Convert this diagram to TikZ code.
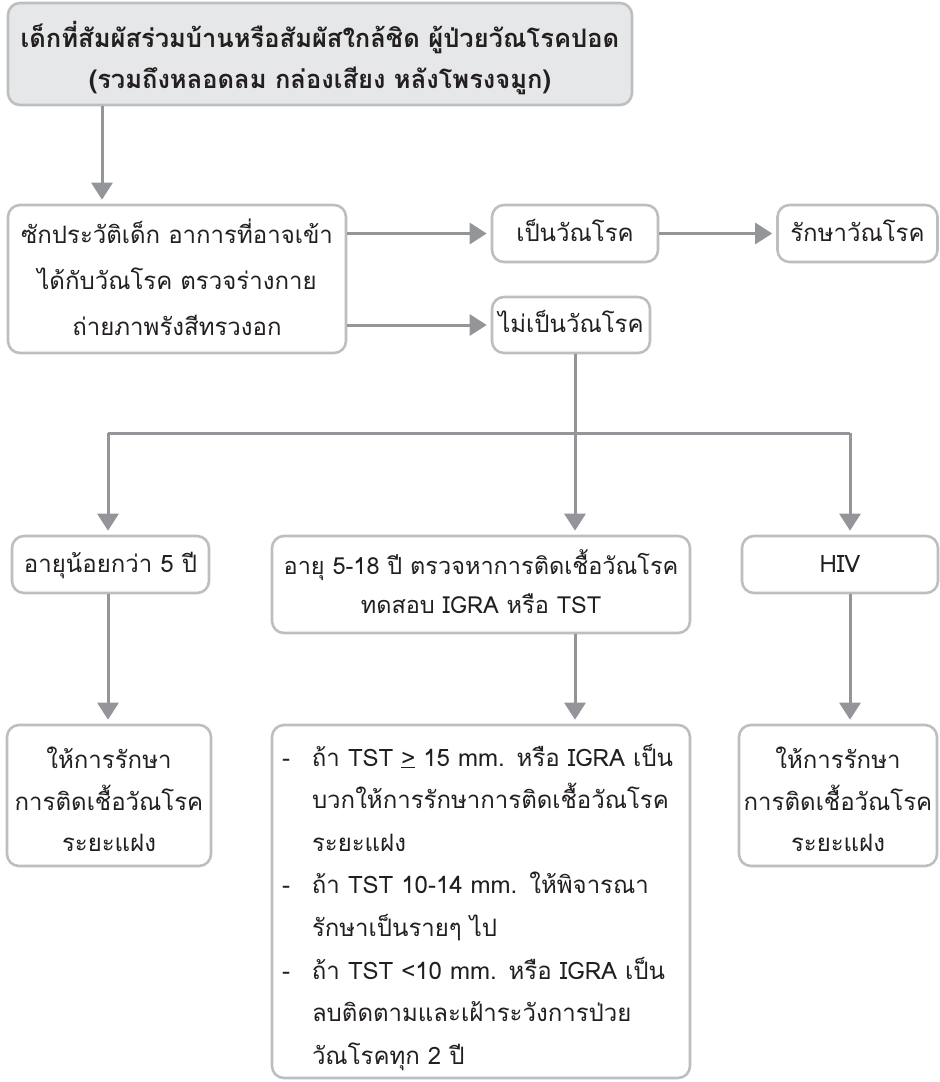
\documentclass[tikz,border=0pt]{standalone}
\usepackage{fontspec}
\usetikzlibrary{arrows.meta}
\newfontfamily\thaifont[Script=Thai]{Loma}
\definecolor{boxline}{HTML}{BCBEC0}
\definecolor{boxfill}{HTML}{E6E7E8}
\definecolor{arrowgray}{HTML}{939598}
\definecolor{ink}{HTML}{231F20}
% text height/depth fix where the lines sit inside each box:
% the text box hangs from its first baseline, so its depth covers the
% remaining lines (lines-1 times the line spacing)
\tikzset{
  box/.style={draw=boxline, line width=2.6pt, rounded corners=12pt, fill=white,
    inner sep=0pt, align=center, text=ink, text height=15pt, text depth=0pt,
    font=\thaifont\fontsize{24pt}{41.5pt}\selectfont},
  headbox/.style={box, fill=boxfill, font=\thaifont\bfseries\fontsize{25.5pt}{41pt}\selectfont},
  arr/.style={draw=arrowgray, line width=3pt,
    -{Triangle[length=17pt,width=21pt]}, shorten >=4pt},
  link/.style={draw=arrowgray, line width=3pt}
}
\begin{document}
\begin{tikzpicture}[x=1pt,y=-1pt]
\useasboundingbox (0,0) rectangle (940,1082);

% first row: contact case
\node[headbox, minimum width=624pt, minimum height=102pt, text width=620pt,
  text height=27pt, text depth=41pt] (contact) at (320,54)
  {เด็กที่สัมผัสร่วมบ้านหรือสัมผัสใกล้ชิด ผู้ป่วยวัณโรคปอด\\(รวมถึงหลอดลม กล่องเสียง หลังโพรงจมูก)};

% evaluation and its outcomes
\node[box, minimum width=338pt, minimum height=148pt, text width=334pt,
  text height=20pt, text depth=92pt,
  font=\thaifont\fontsize{24pt}{46pt}\selectfont] (history) at (177,279)
  {ซักประวัติเด็ก อาการที่อาจเข้า\\ได้กับวัณโรค ตรวจร่างกาย\\ถ่ายภาพรังสีทรวงอก};
\node[box, minimum width=166pt, minimum height=57pt] (tb) at (575,233.5) {เป็นวัณโรค};
\node[box, minimum width=160pt, minimum height=57pt] (treat) at (857.5,233.5) {รักษาวัณโรค};
\node[box, minimum width=158pt, minimum height=56pt] (notb) at (571,325) {ไม่เป็นวัณโรค};

% age / risk groups
\node[box, minimum width=197pt, minimum height=57pt] (young) at (110.5,564.5) {อายุน้อยกว่า 5 ปี};
\node[box, minimum width=418pt, minimum height=97pt, text width=414pt,
  text height=18pt, text depth=39pt,
  font=\thaifont\fontsize{23.5pt}{39pt}\selectfont] (older) at (481,584.5)
  {อายุ 5-18 ปี ตรวจหาการติดเชื้อวัณโรค\\ทดสอบ IGRA หรือ TST};
\node[box, minimum width=196pt, minimum height=57pt] (hiv) at (840,564.5) {HIV};

% management
\node[box, minimum width=204pt, minimum height=141pt, text width=200pt,
  text height=29pt, text depth=83pt] (ltbiA) at (109,795.5)
  {ให้การรักษา\\การติดเชื้อวัณโรค\\ระยะแฝง};
\node[box, minimum width=418pt, minimum height=353pt, align=left,
  text width=398pt, inner xsep=10pt, text height=27pt, text depth=298pt,
  font=\thaifont\fontsize{24pt}{42.6pt}\selectfont] (plan) at (481,901.5)
  {\makebox[30pt][l]{-}ถ้า TST \underline{>} 15 mm. หรือ IGRA เป็น\\
   \hspace*{30pt}บวกให้การรักษาการติดเชื้อวัณโรค\\
   \hspace*{30pt}ระยะแฝง\\
   \makebox[30pt][l]{-}ถ้า TST 10-14 mm. ให้พิจารณา\\
   \hspace*{30pt}รักษาเป็นรายๆ ไป\\
   \makebox[30pt][l]{-}ถ้า TST <10 mm. หรือ IGRA เป็น\\
   \hspace*{30pt}ลบติดตามและเฝ้าระวังการป่วย\\
   \hspace*{30pt}วัณโรคทุก 2 ปี};
\node[box, minimum width=198pt, minimum height=141pt, text width=194pt,
  text height=29pt, text depth=83pt] (ltbiB) at (838,795.5)
  {ให้การรักษา\\การติดเชื้อวัณโรค\\ระยะแฝง};

% connector columns
\coordinate (colA) at (102,0);
\coordinate (colL) at (108,0);
\coordinate (colM) at (575,0);
\coordinate (colR) at (850,0);
\coordinate (split) at (575,433);

\draw[arr] (contact.south -| colA) -- (history.north -| colA);
\draw[arr] (tb.west -| history.east) -- (tb.west);
\draw[arr] (tb.east) -- (treat.west);
\draw[arr] (notb.west -| history.east) -- (notb.west);

\draw[link] (notb.south -| colM) -- (split);
\draw[link] (split -| colL) -- (split -| colR);
\draw[arr] (split -| colL) -- (young.north -| colL);
\draw[arr] (split) -- (older.north -| colM);
\draw[arr] (split -| colR) -- (hiv.north -| colR);

\draw[arr] (young.south -| colL) -- (ltbiA.north -| colL);
\draw[arr] (older.south -| colM) -- (plan.north -| colM);
\draw[arr] (hiv.south -| colR) -- (ltbiB.north -| colR);
\end{tikzpicture}
\end{document}
